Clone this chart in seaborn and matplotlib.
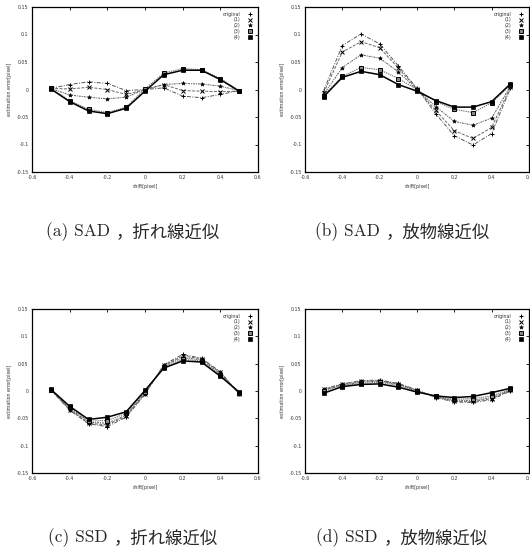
import numpy as np
import pandas as pd
import matplotlib
matplotlib.use("Agg")
import matplotlib.pyplot as plt
from matplotlib.lines import Line2D
import seaborn as sns

sns.set_style("white")
plt.rcParams['font.family'] = ['DejaVu Sans']
plt.rcParams['axes.formatter.use_mathtext'] = False

shift = [-0.5, -0.4, -0.3, -0.2, -0.1, 0.0, 0.1, 0.2, 0.3, 0.4, 0.5]
series_names = ["original", "(1)", "(2)", "(3)", "(4)"]

# (a) SAD, piecewise-linear fit
sad_lin_orig = [0.002, 0.009, 0.014, 0.011, -0.002, 0.000, 0.003, -0.012, -0.015, -0.009, -0.002]
sad_lin_1 = [0.002, 0.001, 0.004, 0.000, -0.009, 0.000, 0.009, -0.002, -0.003, -0.004, -0.003]
sad_lin_2 = [0.002, -0.010, -0.014, -0.017, -0.014, 0.000, 0.009, 0.011, 0.010, 0.006, -0.002]
sad_lin_3 = [0.002, -0.020, -0.036, -0.042, -0.032, 0.001, 0.030, 0.038, 0.036, 0.020, -0.002]
sad_lin_4 = [0.001, -0.022, -0.039, -0.044, -0.034, -0.003, 0.027, 0.035, 0.035, 0.018, -0.003]

# (b) SAD, parabola fit
sad_par_orig = [-0.002, 0.080, 0.101, 0.083, 0.043, 0.002, -0.044, -0.084, -0.101, -0.080, 0.002]
sad_par_1 = [-0.006, 0.068, 0.087, 0.076, 0.039, 0.001, -0.038, -0.075, -0.089, -0.069, 0.004]
sad_par_2 = [-0.009, 0.040, 0.063, 0.057, 0.032, 0.000, -0.031, -0.058, -0.065, -0.052, 0.006]
sad_par_3 = [-0.011, 0.024, 0.040, 0.036, 0.020, 0.000, -0.022, -0.036, -0.042, -0.024, 0.008]
sad_par_4 = [-0.013, 0.022, 0.033, 0.027, 0.009, -0.003, -0.020, -0.032, -0.032, -0.022, 0.010]

# (c) SSD, piecewise-linear fit
ssd_lin_orig = [0.002, -0.035, -0.060, -0.065, -0.048, -0.006, 0.048, 0.067, 0.060, 0.035, -0.006]
ssd_lin_1 = [0.002, -0.034, -0.059, -0.062, -0.046, -0.005, 0.047, 0.064, 0.059, 0.034, -0.005]
ssd_lin_2 = [0.002, -0.032, -0.057, -0.059, -0.044, -0.003, 0.046, 0.061, 0.057, 0.032, -0.004]
ssd_lin_3 = [0.002, -0.030, -0.055, -0.054, -0.041, -0.001, 0.044, 0.058, 0.055, 0.030, -0.003]
ssd_lin_4 = [0.003, -0.028, -0.052, -0.048, -0.038, 0.001, 0.042, 0.055, 0.053, 0.027, -0.002]

# (d) SSD, parabola fit
ssd_par_orig = [0.004, 0.013, 0.019, 0.020, 0.014, 0.002, -0.012, -0.020, -0.021, -0.016, 0.000]
ssd_par_1 = [0.003, 0.012, 0.018, 0.019, 0.013, 0.001, -0.011, -0.019, -0.019, -0.014, 0.001]
ssd_par_2 = [0.002, 0.011, 0.016, 0.018, 0.012, 0.001, -0.011, -0.017, -0.017, -0.012, 0.002]
ssd_par_3 = [0.000, 0.010, 0.014, 0.016, 0.010, 0.000, -0.010, -0.015, -0.014, -0.009, 0.003]
ssd_par_4 = [-0.004, 0.008, 0.012, 0.013, 0.007, -0.002, -0.009, -0.012, -0.010, -0.003, 0.005]

panels = [
    ("(a) SAD ", "，折れ線近似", [sad_lin_orig, sad_lin_1, sad_lin_2, sad_lin_3, sad_lin_4]),
    ("(b) SAD ", "，放物線近似", [sad_par_orig, sad_par_1, sad_par_2, sad_par_3, sad_par_4]),
    ("(c) SSD ", "，折れ線近似", [ssd_lin_orig, ssd_lin_1, ssd_lin_2, ssd_lin_3, ssd_lin_4]),
    ("(d) SSD ", "，放物線近似", [ssd_par_orig, ssd_par_1, ssd_par_2, ssd_par_3, ssd_par_4]),
]

x_ticks = [-0.6, -0.4, -0.2, 0, 0.2, 0.4, 0.6]
x_tick_labels = ["-0.6", "-0.4", "-0.2", "0", "0.2", "0.4", "0.6"]
y_ticks = [-0.15, -0.1, -0.05, 0, 0.05, 0.1, 0.15]
y_tick_labels = ["-0.15", "-0.1", "-0.05", "0", "0.05", "0.1", "0.15"]

styles = [
    dict(color="#555555", linestyle=(0, (4, 1.5, 1, 1.5)), lw=0.7, marker="+", ms=3.2, mfc="black", mec="black", mew=0.7),
    dict(color="#666666", linestyle=(0, (3, 1.5)), lw=0.7, marker="x", ms=2.4, mfc="black", mec="black", mew=0.7),
    dict(color="#555555", linestyle=(0, (2, 1, 1, 1)), lw=0.7, marker="*", ms=3.0, mfc="black", mec="black", mew=0.4),
    dict(color="#777777", linestyle=(0, (1.2, 0.8)), lw=0.8, marker="s", ms=3.0, mfc="#888888", mec="black", mew=0.7),
    dict(color="black", linestyle="-", lw=1.1, marker="s", ms=3.0, mfc="black", mec="black", mew=0.5),
]

W, H = 530, 554
fig = plt.figure(figsize=(W / 100, H / 100), dpi=100)

boxes = [(32, 7, 258, 172), (305, 7, 529, 172), (32, 309, 258, 473), (305, 309, 529, 473)]
cap_pos = [(133, 232), (402, 232), (133, 538), (402, 538)]

for (cap_lat, cap_jp, data), (l, t, r, b), (cx, cy) in zip(panels, boxes, cap_pos):
    ax = fig.add_axes([l / W, 1 - b / H, (r - l) / W, (b - t) / H])
    for name, vals, st in zip(series_names, data, styles):
        sns.lineplot(x=shift, y=vals, ax=ax, color=st["color"], linestyle=st["linestyle"],
                     linewidth=st["lw"], marker=st["marker"], markersize=st["ms"],
                     markerfacecolor=st["mfc"], markeredgecolor=st["mec"],
                     markeredgewidth=st["mew"], legend=False, zorder=3)
    ax.set_xlim(-0.6, 0.6)
    ax.set_ylim(-0.15, 0.15)
    ax.set_xticks(x_ticks)
    ax.set_xticklabels(x_tick_labels)
    ax.set_yticks(y_ticks)
    ax.set_yticklabels(y_tick_labels)
    ax.tick_params(direction="in", length=2.5, width=0.6, labelsize=3.4, pad=2.5,
                   top=True, right=True, colors="black", labelcolor="#333333")
    for s in ax.spines.values():
        s.set_color("black")
        s.set_linewidth(0.9)
    ax.set_xlabel("shift[pixel]", fontsize=3.4, labelpad=2.5, color="#333333")
    ax.set_ylabel("estimation error[pixel]", fontsize=3.4, labelpad=3, color="#333333")
    handles = [Line2D([], [], linestyle="none", marker=st["marker"], markersize=st["ms"],
                      markerfacecolor=st["mfc"], markeredgecolor=st["mec"],
                      markeredgewidth=st["mew"]) for st in styles]
    leg = ax.legend(handles, series_names, loc="upper right", frameon=False, fontsize=3.4,
                    markerfirst=False, handlelength=1.2, handletextpad=1.5,
                    labelspacing=0.15, borderaxespad=0.6)
    for txt in leg.get_texts():
        txt.set_ha("right")
        txt.set_color("#333333")
    # caption: latin part in serif, Japanese part in gothic
    t1 = fig.text(0, 1 - cy / H, cap_lat, ha="left", va="center", fontsize=12.5,
                  family=["cmr10", "DejaVu Serif"])
    t2 = fig.text(0, 1 - cy / H, cap_jp, ha="left", va="center", fontsize=12.5,
                  family=["Noto Sans CJK JP", "DejaVu Sans"])
    fig.canvas.draw()
    rr = fig.canvas.get_renderer()
    w1 = t1.get_window_extent(rr).width
    w2 = t2.get_window_extent(rr).width
    x0 = cx - (w1 + w2) / 2
    t1.set_x(x0 / W)
    t2.set_x((x0 + w1) / W)

fig.savefig("out.png", dpi=100)
